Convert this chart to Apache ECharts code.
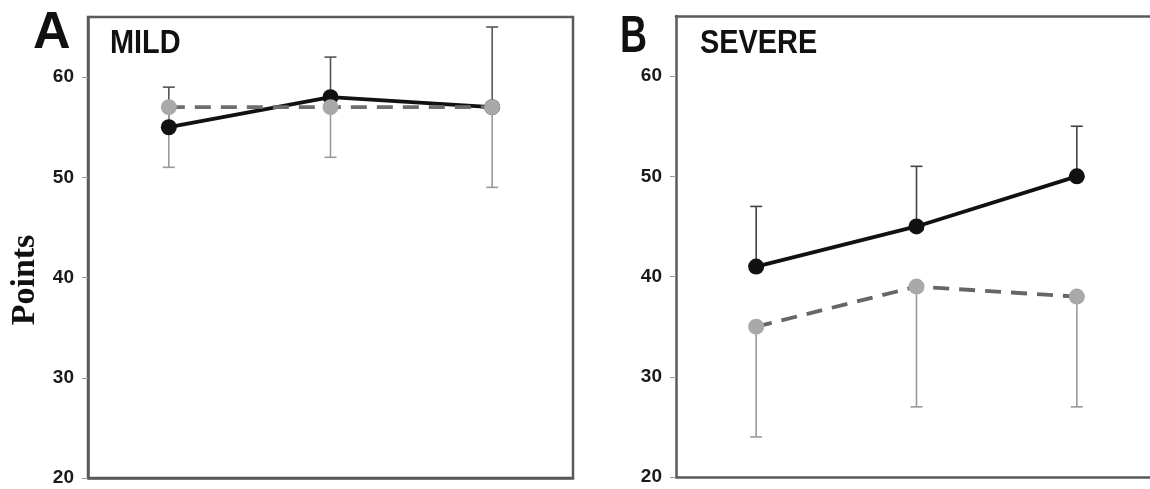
<!DOCTYPE html>
<html>
<head>
<meta charset="utf-8">
<script src="https://cdn.jsdelivr.net/npm/echarts@6/dist/echarts.min.js"></script>
<style>
  html, body { margin: 0; padding: 0; background: #fff; }
  #chart { width: 1150px; height: 489px; }
</style>
</head>
<body>
<div id="chart"></div>
<script>
// ---- data ----
const categories = ['T1', 'T2', 'T3'];
const yTicks = [20, 30, 40, 50, 60];

const mildSolid = [55, 58, 57];
const mildSolidUpper = [59, 62, 65];
const mildDashed = [57, 57, 57];
const mildDashedLower = [51, 52, 49];

const severeSolid = [41, 45, 50];
const severeSolidUpper = [47, 51, 55];
const severeDashed = [35, 39, 38];
const severeDashedLower = [24, 27, 27];

// ---- helpers ----
const AXIS_COLOR = '#5a5a5a';
const LABEL_FONT = 'Liberation Sans, Arial, sans-serif';
// panel B's plot area runs past the right edge of the picture:
// full plot width 481px, of which 474px are visible
const B_FULL_W = 481, B_VISIBLE_W = 474;

function pairs(values) { return values.map((v, i) => [i, v]); }
function errData(means, bounds) { return means.map((m, i) => [i, m, bounds[i]]); }

function errSeries(gridIdx, means, bounds, color) {
  return {
    type: 'custom',
    xAxisIndex: gridIdx, yAxisIndex: gridIdx,
    z: 1, silent: true,
    data: errData(means, bounds),
    encode: { x: 0, y: [1, 2] },
    renderItem: function (params, api) {
      const p0 = api.coord([api.value(0), api.value(1)]);
      const p1 = api.coord([api.value(0), api.value(2)]);
      const cap = 6;
      return {
        type: 'group',
        children: [
          { type: 'line', shape: { x1: p0[0], y1: p0[1], x2: p1[0], y2: p1[1] },
            style: { stroke: color, lineWidth: 1.6 } },
          { type: 'line', shape: { x1: p1[0] - cap, y1: p1[1], x2: p1[0] + cap, y2: p1[1] },
            style: { stroke: color, lineWidth: 1.6 } }
        ]
      };
    }
  };
}
function lineSeries(gridIdx, values, color, markerColor, dashed, z) {
  return {
    type: 'line',
    xAxisIndex: gridIdx, yAxisIndex: gridIdx,
    data: pairs(values),
    z: z, symbol: 'circle', symbolSize: 16, silent: true,
    lineStyle: { color: color, width: 3.8, type: dashed ? [16, 10] : 'solid' },
    itemStyle: { color: markerColor, borderWidth: 0 },
    animation: false
  };
}
function xAxis(gridIdx, maxVal, position) {
  return {
    type: 'value', gridIndex: gridIdx, min: -0.5, max: maxVal,
    position: position || 'bottom',
    axisLine: { show: true, onZero: false, lineStyle: { color: AXIS_COLOR, width: 2.5 } },
    axisTick: { show: false }, axisLabel: { show: false }, splitLine: { show: false }
  };
}
function yAxis(gridIdx) {
  return {
    type: 'value', gridIndex: gridIdx, min: 20, max: 66, position: 'left',
    axisLine: { show: true, onZero: false, lineStyle: { color: AXIS_COLOR, width: 2.5 } },
    axisTick: { show: true, length: 6, customValues: yTicks, lineStyle: { color: '#999', width: 1 } },
    axisLabel: { show: true, customValues: yTicks, margin: 14, color: '#1a1a1a',
                 fontFamily: LABEL_FONT, fontWeight: 'bold', fontSize: 19 },
    splitLine: { show: false }
  };
}

const aMax = categories.length - 0.5;
const bMax = -0.5 + categories.length * B_VISIBLE_W / B_FULL_W;

const chart = echarts.init(document.getElementById('chart'), null, { renderer: 'canvas' });
chart.setOption({
  animation: false,
  backgroundColor: '#ffffff',
  grid: [
    { left: 88, top: 17, width: 485, height: 461, show: true, borderColor: AXIS_COLOR, borderWidth: 2.5 },
    { left: 676, top: 16, width: B_VISIBLE_W, height: 461, show: false }
  ],
  xAxis: [xAxis(0, aMax), xAxis(1, bMax), xAxis(1, bMax, 'top')],
  yAxis: [yAxis(0), yAxis(1)],
  series: [
    errSeries(0, mildSolid, mildSolidUpper, '#555555'),
    errSeries(0, mildDashed, mildDashedLower, '#9a9a9a'),
    lineSeries(0, mildSolid, '#111111', '#111111', false, 3),
    lineSeries(0, mildDashed, '#6e6e6e', '#a9a9a9', true, 4),
    errSeries(1, severeSolid, severeSolidUpper, '#444444'),
    errSeries(1, severeDashed, severeDashedLower, '#9a9a9a'),
    lineSeries(1, severeSolid, '#111111', '#111111', false, 3),
    lineSeries(1, severeDashed, '#666666', '#a9a9a9', true, 4)
  ],
  graphic: [
    { type: 'text', left: 33, top: 8, z: 10,
      style: { text: 'A', fontFamily: 'Liberation Sans, Arial, sans-serif', fontWeight: 'bold', fontSize: 52, fill: '#111' } },
    { type: 'text', x: 110, y: 27, scaleX: 0.85, z: 10,
      style: { text: 'MILD', fontFamily: 'Liberation Sans, Arial, sans-serif', fontWeight: 'bold', fontSize: 34, fill: '#111' } },
    { type: 'text', x: 620, y: 12, scaleX: 0.72, z: 10,
      style: { text: 'B', fontFamily: 'Liberation Sans, Arial, sans-serif', fontWeight: 'bold', fontSize: 52, fill: '#111' } },
    { type: 'text', x: 700, y: 27, scaleX: 0.85, z: 10,
      style: { text: 'SEVERE', fontFamily: 'Liberation Sans, Arial, sans-serif', fontWeight: 'bold', fontSize: 34, fill: '#111' } },
    { type: 'text', x: 25, y: 280, rotation: Math.PI / 2, z: 10,
      style: { text: 'Points', fontFamily: 'Liberation Serif, Times New Roman, serif', fontWeight: 'bold', fontSize: 34,
               fill: '#111', align: 'center', verticalAlign: 'middle' } }
  ]
});
</script>
</body>
</html>
